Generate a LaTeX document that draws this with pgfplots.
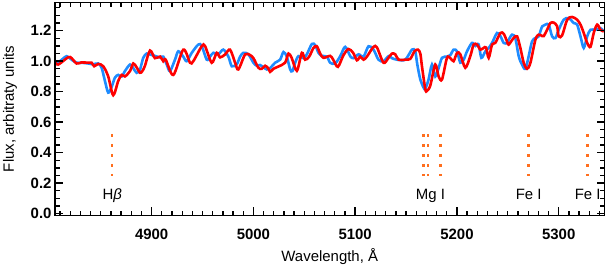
\documentclass[border=0pt]{standalone}
\usepackage{fontspec}
\setmainfont{Liberation Sans}
\usepackage{pgfplots}
\pgfplotsset{compat=1.18}
\definecolor{sblue}{RGB}{30,140,255}
\definecolor{sred}{RGB}{255,0,0}
\definecolor{lorange}{RGB}{255,110,30}
\begin{document}
\begin{tikzpicture}
\path[use as bounding box] (0,0) rectangle (606bp,268bp);
\begin{axis}[
  at={(55bp,52.5bp)}, anchor=south west,
  scale only axis, width=549.5bp, height=213bp,
  xmin=4805, xmax=5345, ymin=-0.012, ymax=1.385,
  xtick={4900,5000,5100,5200,5300},
  ytick={0,0.2,0.4,0.6,0.8,1.0,1.2},
  minor xtick={4810,4820,...,5340},
  minor ytick={0.05,0.1,0.15,0.25,0.3,0.35,0.45,0.5,0.55,0.65,0.7,0.75,0.85,0.9,0.95,1.05,1.1,1.15,1.25,1.3,1.35},
  xtick pos=both, ytick pos=both,
  tick align=inside,
  major tick length=8bp, minor tick length=4.5bp,
  axis line style={line width=1.8bp},
  major tick style={draw=black, line width=1.5bp},
  minor tick style={draw=black, line width=1.3bp},
  axis on top,
  /pgf/number format/assume math mode=true,
  xticklabel={\pgfmathprintnumber[fixed,precision=0,1000 sep={}]{\tick}},
  yticklabel={\pgfmathprintnumber[fixed,fixed zerofill,precision=1]{\tick}},
  xticklabel style={font=\fontsize{15}{18}\selectfont\bfseries, yshift=-10.5bp},
  yticklabel style={font=\fontsize{15}{18}\selectfont\bfseries},
  xlabel={Wavelength, Å},
  ylabel={Flux, arbitraty units},
  xlabel style={font=\fontsize{15}{18}\selectfont, at={(axis description cs:0.5,0)}, anchor=center, yshift=-41.5bp},
  ylabel style={font=\fontsize{15}{18}\selectfont, at={(axis description cs:0,0.5)}, anchor=center, rotate=0, yshift=45bp},
  clip=true,
]
\addplot[sblue, line width=2.6bp, smooth, tension=0.5] coordinates {
(4804.9,0.990) (4809.8,1.000) (4816.4,1.033) (4821.3,1.010) (4826.2,0.990) (4831.1,0.990) (4837.6,0.985) (4842.5,0.980) (4847.5,0.985) (4850.8,0.957) (4854.1,0.870) (4857.3,0.794) (4860.6,0.830) (4863.9,0.892) (4867.1,0.910) (4870.5,0.900) (4873.7,0.935) (4878.7,0.978) (4881.9,0.955) (4885.2,0.924) (4888.5,0.945) (4891.7,1.022) (4895.1,1.050) (4898.3,1.044) (4903.2,1.035) (4908.2,1.025) (4911.4,1.030) (4914.8,0.978) (4918.0,0.935) (4922.9,1.010) (4926.2,1.065) (4931.1,1.030) (4934.4,1.000) (4939.4,1.055) (4945.8,1.109) (4949.2,1.100) (4954.1,1.010) (4957.4,1.030) (4960.6,1.055) (4965.5,1.045) (4970.4,1.076) (4975.4,1.030) (4978.7,0.967) (4983.6,0.980) (4986.9,1.030) (4990.1,1.055) (4995.0,1.045) (5000.0,0.990) (5003.3,0.970) (5006.5,0.975) (5009.8,0.960) (5013.1,0.946) (5016.4,0.955) (5021.3,0.990) (5026.2,1.010) (5029.5,1.060) (5032.8,1.030) (5036.1,0.946) (5038.3,0.935) (5041.0,0.990) (5044.2,1.033) (5049.1,1.020) (5052.5,1.045) (5057.4,1.113) (5060.7,1.105) (5063.9,1.055) (5067.2,1.035) (5072.2,1.030) (5075.4,0.990) (5080.3,0.985) (5085.3,1.033) (5090.2,1.094) (5095.1,1.033) (5098.3,1.020) (5103.3,1.045) (5108.2,1.030) (5113.1,1.098) (5118.0,1.076) (5122.9,1.010) (5127.8,1.000) (5132.8,1.033) (5136.1,1.020) (5141.0,1.010) (5149.2,1.010) (5155.8,1.076) (5159.0,1.065) (5161.0,0.980) (5164.0,0.880) (5167.2,0.827) (5168.9,0.820) (5172.1,0.880) (5175.5,0.978) (5178.7,0.900) (5182.0,0.955) (5185.3,1.022) (5190.2,1.030) (5193.5,1.040) (5196.7,1.076) (5200.1,1.065) (5203.3,0.990) (5206.6,1.010) (5209.9,1.065) (5214.8,1.120) (5218.1,1.100) (5221.3,1.110) (5224.0,1.022) (5227.9,1.065) (5231.2,1.087) (5234.5,1.120) (5239.4,1.185) (5242.7,1.165) (5245.9,1.120) (5249.2,1.120) (5250.8,1.140) (5254.2,1.174) (5257.4,1.150) (5260.7,1.033) (5263.9,0.978) (5267.3,0.950) (5270.5,1.033) (5273.8,1.130) (5277.1,1.152) (5280.3,1.163) (5283.7,1.228) (5286.9,1.240) (5290.2,1.240) (5293.5,1.163) (5296.8,1.152) (5300.0,1.206) (5304.9,1.272) (5309.9,1.283) (5314.8,1.250) (5318.1,1.240) (5321.4,1.163) (5324.6,1.087) (5328.0,1.163) (5331.2,1.206) (5336.1,1.206) (5341.0,1.217) (5344.3,1.195)
};
\addplot[sred, line width=2.6bp, smooth, tension=0.5] coordinates {
(4804.9,1.000) (4808.1,0.978) (4818.0,1.026) (4821.3,1.020) (4826.2,0.985) (4831.1,0.992) (4837.6,0.990) (4841.0,0.990) (4843.5,0.967) (4847.5,0.982) (4852.4,0.967) (4857.3,0.900) (4862.2,0.777) (4867.1,0.870) (4870.5,0.910) (4873.7,0.900) (4878.7,0.935) (4881.9,0.985) (4885.2,0.960) (4888.5,0.924) (4890.8,0.935) (4893.4,0.970) (4898.3,1.070) (4903.2,1.020) (4908.2,1.030) (4911.4,1.000) (4913.8,1.010) (4921.3,0.910) (4931.1,1.076) (4937.7,0.990) (4940.9,1.000) (4949.2,1.098) (4952.4,1.100) (4959.0,0.990) (4963.9,1.055) (4967.2,1.025) (4972.1,1.044) (4977.0,1.076) (4982.0,0.990) (4985.2,0.946) (4991.8,1.044) (4996.7,1.040) (5000.0,1.020) (5004.9,0.957) (5008.2,0.950) (5011.5,0.970) (5014.4,0.955) (5016.4,0.930) (5019.6,0.950) (5024.5,0.965) (5031.1,0.990) (5034.4,1.050) (5037.7,1.020) (5042.7,0.937) (5047.6,1.055) (5050.8,1.010) (5054.8,1.030) (5059.0,1.087) (5062.3,1.098) (5065.6,1.050) (5068.8,1.022) (5075.4,1.035) (5078.4,1.010) (5083.0,0.963) (5088.5,1.040) (5093.4,1.080) (5098.0,1.055) (5101.7,1.006) (5104.9,1.030) (5108.2,1.010) (5111.5,1.030) (5118.0,1.094) (5121.4,1.090) (5127.8,0.990) (5132.5,1.020) (5136.1,1.050) (5139.4,1.045) (5142.6,1.010) (5149.2,1.010) (5154.1,1.015) (5158.3,1.065) (5161.7,1.076) (5164.0,1.050) (5165.6,0.967) (5168.9,0.816) (5170.5,0.805) (5173.8,0.840) (5178.7,0.978) (5182.0,0.900) (5185.3,0.880) (5190.2,1.022) (5193.5,1.020) (5196.7,1.000) (5200.1,1.055) (5203.3,1.045) (5208.2,0.957) (5213.1,1.033) (5216.4,1.109) (5219.7,1.109) (5223.0,1.076) (5226.2,1.087) (5228.6,1.090) (5231.2,1.022) (5234.5,1.109) (5237.7,1.120) (5242.7,1.185) (5245.9,1.180) (5249.2,1.130) (5250.8,1.109) (5255.7,1.152) (5259.1,1.163) (5262.3,1.087) (5265.6,0.990) (5268.9,0.950) (5272.2,0.990) (5277.1,1.141) (5280.3,1.174) (5283.7,1.165) (5285.3,1.165) (5288.6,1.206) (5291.8,1.250) (5295.1,1.253) (5298.4,1.230) (5300.0,1.163) (5303.4,1.170) (5308.3,1.272) (5313.2,1.290) (5318.1,1.272) (5321.4,1.240) (5324.6,1.185) (5328.0,1.120) (5331.2,1.094) (5334.4,1.185) (5337.8,1.240) (5341.0,1.206) (5344.3,1.195)
};
\foreach \wl in {4861.2,5167.2,5171.6,5183.6,5270.5,5328.5} {
  \edef\temp{\noexpand\addplot[lorange, line width=2.6bp, line cap=butt, dash pattern=on 2.6bp off 7.4bp] coordinates {(\wl,0.523) (\wl,0.245)};}
  \temp
}
\node[font=\fontsize{15}{18}\selectfont, anchor=base] at (axis cs:4861.2,0.09) {H{\itshape β}};
\node[font=\fontsize{15}{18}\selectfont, anchor=base] at (axis cs:5174,0.09) {Mg I};
\node[font=\fontsize{15}{18}\selectfont, anchor=base] at (axis cs:5270.5,0.09) {Fe I};
\node[font=\fontsize{15}{18}\selectfont, anchor=base] at (axis cs:5328.5,0.09) {Fe I};
\end{axis}
\end{tikzpicture}
\end{document}
